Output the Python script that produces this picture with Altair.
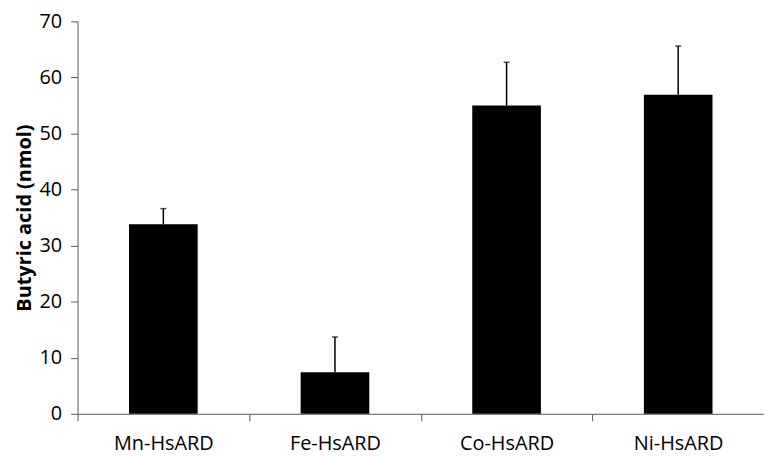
import altair as alt
import pandas as pd

categories = ["Mn-HsARD", "Fe-HsARD", "Co-HsARD", "Ni-HsARD"]
values = [33.8, 7.4, 55.0, 56.9]
errors = [2.8, 6.3, 7.7, 8.7]

df = pd.DataFrame({"cat": categories, "val": values, "err": errors})
df["top"] = df["val"] + df["err"]

FONT = "Open Sans"

x = alt.X("cat:N", sort=categories, title=None,
          scale=alt.Scale(paddingInner=0, paddingOuter=0),
          axis=alt.Axis(labelAngle=0, tickBand="extent", tickSize=7,
                        labelPadding=13, labelFontSize=20, labelFont=FONT,
                        labelColor="black", domainColor="#595959",
                        tickColor="#595959", grid=False))

bars = alt.Chart(df).mark_bar(color="black", width=alt.RelativeBandSize(0.4)).encode(
    x=x,
    y=alt.Y("val:Q", title="Butyric acid (nmol)",
            scale=alt.Scale(domain=[0, 70], nice=False),
            axis=alt.Axis(values=list(range(0, 71, 10)), tickSize=7,
                          labelPadding=9, labelFontSize=20, labelFont=FONT,
                          labelColor="black", titleFont=FONT, titleFontSize=20,
                          titleFontWeight="bold", titleColor="black",
                          titlePadding=4, domainColor="#595959",
                          tickColor="#595959", grid=False)),
)

rules = alt.Chart(df).mark_rule(color="black", strokeWidth=1.5).encode(
    x=alt.X("cat:N", sort=categories),
    y="val:Q",
    y2="top:Q",
)

caps = alt.Chart(df).mark_tick(color="black", size=6, thickness=1.5).encode(
    x=alt.X("cat:N", sort=categories),
    y="top:Q",
)

chart = (bars + rules + caps).properties(
    width=691, height=395,
    autosize=alt.AutoSizeParams(type="none"),
    padding={"left": 70, "top": 12, "right": 0, "bottom": 40},
).configure_view(stroke=None)

chart.save("out.html", embed_options={"renderer": "svg", "actions": False})
